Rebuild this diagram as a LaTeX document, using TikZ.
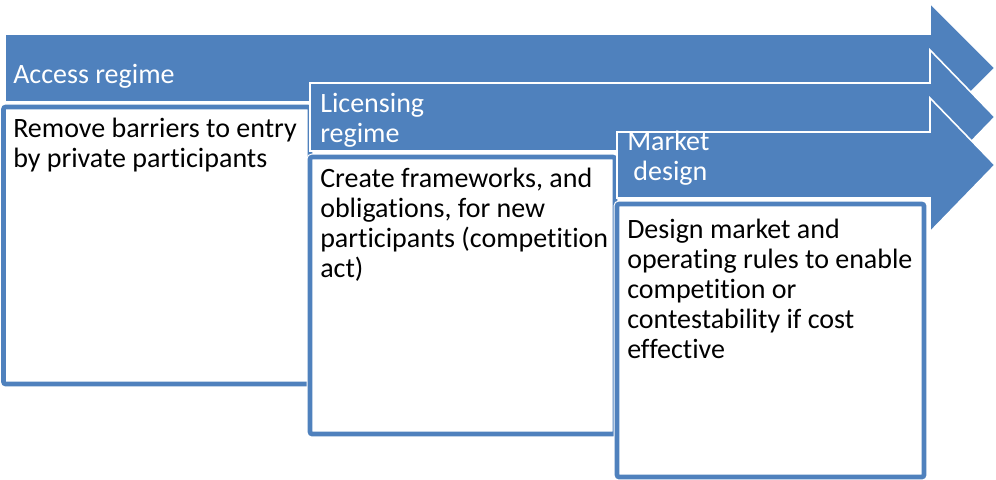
\documentclass[tikz,border=0pt]{standalone}
\usepackage{fontspec}
\setmainfont[Ligatures=NoCommon]{Carlito}
\usepackage{xcolor}
\usetikzlibrary{positioning}
\definecolor{regimeblue}{HTML}{4F81BD}
\tikzset{
  stagearrow/.style={fill=regimeblue, draw=white, line width=1.2pt, line join=miter},
  stagebox/.style={fill=white, draw=regimeblue, line width=3.4pt, rounded corners=1.5pt,
    preaction={draw=white, line width=5pt}},
  headtext/.style={text=white, anchor=base west, inner sep=0pt, align=left,
    font=\fontsize{21}{22.5}\selectfont},
  bodytext/.style={text=black, anchor=base west, inner sep=0pt, align=left,
    font=\fontsize{21}{22.5}\selectfont},
}

\begin{document}
\begin{tikzpicture}[x=0.75pt, y=-0.75pt]
  \useasboundingbox (0,0) rectangle (996,479);

  % first stage: access regime
  \draw[stagearrow] (5,34) -- (930,34) -- (930,3) -- (995,68) -- (930,133) -- (930,102) -- (5,102) -- cycle;
  \node[headtext] (access) at (13,83) {Access regime};
  \draw[stagebox] (3.5,107) rectangle (310,384);
  \node[bodytext] (accessdesc) at (13,167) {Remove barriers to entry\\by private participants};

  % second stage: licensing regime
  \draw[stagearrow] (310,83) -- (930,83) -- (930,50) -- (995,117) -- (930,184) -- (930,151) -- (310,151) -- cycle;
  \node[headtext] (licensing) at (320,142) {Licensing\\regime};
  \draw[stagebox] (310,157) rectangle (615,434);
  \node[bodytext] (licensingdesc) at (320,277) {Create frameworks, and\\obligations, for new\\participants (competition\\act)};

  % third stage: market design
  \draw[stagearrow] (617,132) -- (930,132) -- (930,98) -- (995,165) -- (930,232) -- (930,198) -- (617,198) -- cycle;
  \node[headtext] (market) at (627,180) {Market\\\hspace*{0.22em}design};
  \draw[stagebox] (617,204) rectangle (924,477);
  \node[bodytext] (marketdesc) at (627,358) {Design market and\\operating rules to enable\\competition or\\contestability if cost\\effective};
\end{tikzpicture}
\end{document}
